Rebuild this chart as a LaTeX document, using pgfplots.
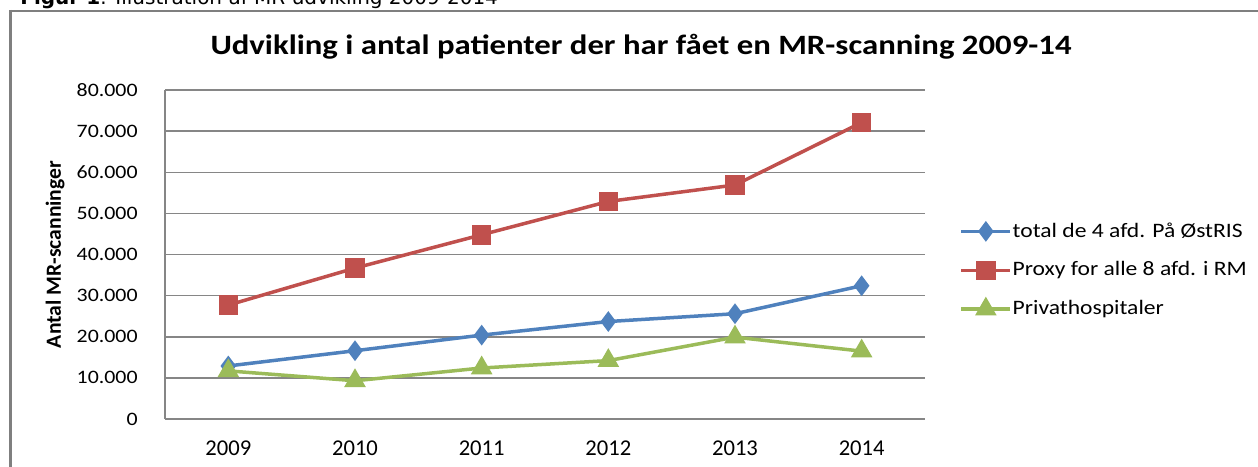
\documentclass[border=0pt]{standalone}
\usepackage{fontspec}
\usepackage{pgfplots}
\pgfplotsset{compat=1.18}
\setmainfont{Carlito}
\newfontfamily\lab[FakeStretch=1.15]{Carlito}
\newfontfamily\titlefont[FakeStretch=1.17]{Carlito Bold}
\newfontfamily\capfont{DejaVu Sans}
\definecolor{cblue}{HTML}{4F81BD}
\definecolor{cred}{HTML}{C0504D}
\definecolor{cgreen}{HTML}{9BBB59}
\definecolor{cgrid}{HTML}{868686}
\definecolor{cborder}{HTML}{7F7F7F}
\begin{document}
\begin{tikzpicture}
\useasboundingbox (0,0) rectangle (629pt,233pt);
% caption (cut off at top)
\node[anchor=base west, inner sep=0pt, font=\capfont\fontsize{10pt}{12pt}\selectfont] at (10pt,230.5pt) {\textbf{Figur 1}: Illustration af MR-udvikling 2009-2014};
% frame
\draw[cborder, line width=1pt] (4.5pt,227.5pt) -- (640pt,227.5pt);
\draw[cborder, line width=1.5pt] (5pt,228pt) -- (5pt,-5pt);
% title
\node[anchor=base, inner sep=0pt, font=\titlefont\fontsize{14pt}{16pt}\selectfont] at (320.5pt,205.5pt) {Udvikling i antal patienter der har fået en MR-scanning 2009-14};
\begin{axis}[
  at={(82.5pt,23.5pt)}, anchor=south west,
  scale only axis, width=380pt, height=164.5pt,
  xmin=-0.5, xmax=5.5, ymin=0, ymax=80000,
  xtick={0,1,2,3,4,5},
  xticklabels={2009,2010,2011,2012,2013,2014},
  ytick={0,10000,20000,30000,40000,50000,60000,70000,80000},
  scaled y ticks=false,
  /pgf/number format/.cd, 1000 sep={.}, fixed, assume math mode=true, /pgfplots/.cd,
  axis line style={draw=none},
  major tick length=0pt,
  ymajorgrids, grid style={cgrid, line width=0.75pt},
  xticklabel style={anchor=center, yshift=-14.5pt, inner sep=0pt, font=\fontsize{11.3pt}{13pt}\selectfont},
  yticklabel style={anchor=east, xshift=-13.5pt, inner sep=0pt, font=\lab\fontsize{9.5pt}{11pt}\selectfont},
  ylabel={Antal MR-scanninger},
  ylabel style={at={(axis description cs:-0.1447,0.5)}, anchor=center, inner sep=0pt, font=\bfseries\fontsize{10.8pt}{12pt}\selectfont},
  legend cell align=left,
  legend style={at={(rel axis cs:1.045,0.60)}, anchor=north west, draw=none, fill=none, inner sep=0pt,
    row sep=10.2pt, font=\lab\fontsize{10.25pt}{12pt}\selectfont,
    nodes={inner sep=0.3pt}},
  legend image code/.code={\draw[mark repeat=2,mark phase=2,#1] plot coordinates {(0pt,0pt) (12.25pt,0pt) (24.5pt,0pt)};},
  clip=false,
]
\draw[cgrid, line width=0.75pt] (rel axis cs:0,0) -- (rel axis cs:0,1);
\addplot[cblue, line width=1.75pt, mark=diamond*, mark size=3.75pt, mark options={solid}] coordinates {
  (0,12900) (1,16600) (2,20400) (3,23700) (4,25600) (5,32400)};
\addlegendentry{total de 4 afd. På ØstRIS}
\addplot[cred, line width=1.75pt, mark=square*, mark size=4pt] coordinates {
  (0,27700) (1,36700) (2,44800) (3,52900) (4,56900) (5,72100)};
\addlegendentry{Proxy for alle 8 afd. i RM}
\addplot[cgreen, line width=1.75pt, mark=triangle*, mark size=4.5pt] coordinates {
  (0,11700) (1,9300) (2,12400) (3,14200) (4,19900) (5,16500)};
\addlegendentry{Privathospitaler}
\end{axis}
\end{tikzpicture}
\end{document}
